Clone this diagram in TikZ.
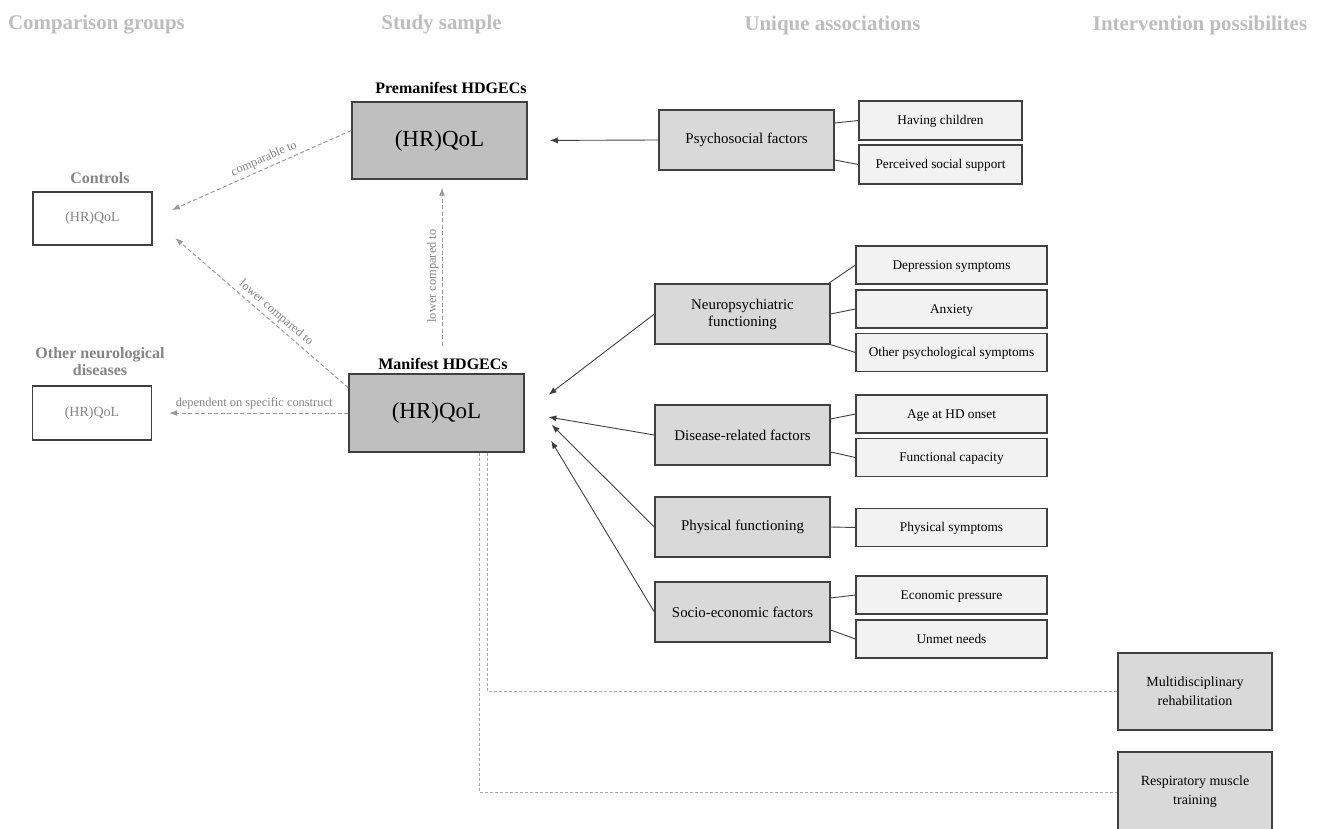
\documentclass[tikz,border=0pt]{standalone}
\usepackage{fontspec}
\setmainfont{Liberation Serif}
\usetikzlibrary{arrows.meta,calc}
\definecolor{edgegray}{HTML}{404040}
\definecolor{dashgray}{HTML}{9A9A9A}
\definecolor{labgray}{HTML}{858585}
\definecolor{titlegray}{HTML}{BDBDBD}
\definecolor{mainfill}{HTML}{BFBFBF}
\definecolor{factfill}{HTML}{D9D9D9}
\definecolor{itemfill}{HTML}{F2F2F2}
\tikzset{
  fs/.style 2 args={font=\fontsize{#1}{#2}\selectfont},
  title/.style={text=titlegray, font=\fontsize{20.9}{25}\selectfont\bfseries},
  grouplab/.style={font=\fontsize{16}{19}\selectfont\bfseries, align=center},
  mainbox/.style={draw=edgegray, line width=1.5pt, fill=mainfill, minimum width=175pt, minimum height=77pt, inner sep=0pt, fs={23}{27}},
  cmpbox/.style={draw=edgegray, line width=1.3pt, fill=white, text=labgray, minimum width=119pt, minimum height=53pt, inner sep=0pt, fs={14}{17}},
  factbox/.style={draw=edgegray, line width=1.3pt, fill=factfill, minimum width=175pt, minimum height=60pt, inner sep=0pt, align=center, fs={14.9}{18}},
  itembox/.style={draw=edgegray, line width=1.2pt, fill=itemfill, minimum width=191pt, minimum height=38pt, inner sep=0pt, text depth=0.5pt, fs={13.3}{16}},
  intbox/.style={draw=edgegray, line width=1.3pt, fill=factfill, minimum width=154pt, minimum height=77pt, inner sep=0pt, align=center, fs={14}{19}},
  arr/.style={draw=edgegray, line width=0.9pt, -{Latex[length=8pt,width=6pt]}},
  link/.style={draw=edgegray, line width=0.9pt},
  dasharr/.style={draw=dashgray, line width=1pt, dash pattern=on 4pt off 2.5pt, -{Latex[length=8pt,width=6pt]}},
  dashlink/.style={draw=dashgray!85, line width=0.9pt, dash pattern=on 3pt off 2pt},
  elab/.style={text=labgray, fs={12.4}{15}, sloped, above, inner sep=3pt},
}
\begin{document}
\begin{tikzpicture}[x=1pt, y=-1pt]
\useasboundingbox (0,0) rectangle (1320,829);
% column titles
\node[title] (t0) at (96.5,25){Comparison groups};
\node[title] (t1) at (441.5,25){Study sample};
\node[title] (t2) at (832.5,25){Unique associations};
\node[title] (t3) at (1200,25){Intervention possibilites};

% study sample
\node[grouplab] (prelab) at (451,88){Premanifest HDGECs};
\node[mainbox] (pre) at (439.5,140.5){(HR)QoL};
\node[grouplab] (manlab) at (443,364){Manifest HDGECs};
\node[mainbox, minimum height=78pt] (man) at (436.5,413){(HR)QoL};

% comparison groups
\node[grouplab, text=labgray] (ctrllab) at (100,178){Controls};
\node[cmpbox] (ctrl) at (92.5,218.5){(HR)QoL};
\node[grouplab, text=labgray, align=center] (othlab) at (100,362){Other neurological\\[-2pt]diseases};
\node[cmpbox, minimum height=54pt] (oth) at (92,413){(HR)QoL};

\draw[dasharr, shorten >=21pt] ($(pre.west)+(0,-10)$) -- node[elab, pos=0.42]{comparable to} (ctrl.east);
\draw[dasharr, shorten >=30pt] (man.164) -- node[elab, pos=0.4]{lower compared to} (ctrl.east);
\draw[dasharr, shorten <=9pt, shorten >=8pt] ($(manlab.north)+(-1,0)$) -- node[elab, pos=0.45]{lower compared to} ($(pre.south)+(2.5,0)$);
\draw[dasharr, shorten >=17pt] (man.west) -- node[elab, pos=0.48]{dependent on specific construct} (oth.east);

% unique associations
\node[factbox] (psy) at (746.5,140){Psychosocial factors};
\node[itembox, minimum width=163pt, minimum height=39pt] (hav) at (940.5,120.5){Having children};
\node[itembox, minimum width=163pt, minimum height=39pt] (per) at (940.5,164.5){Perceived social support};
\draw[arr, shorten >=22pt] (psy.west) -- (pre.east);
\draw[link] ($(psy.east)+(0,-17)$) -- (hav.west);
\draw[link] ($(psy.east)+(0,20)$) -- (per.west);

\node[factbox] (neu) at (742.5,314){Neuropsychiatric\\[-1pt]functioning};
\node[itembox] (dep) at (951.5,265){Depression symptoms};
\node[itembox] (anx) at (951.5,309){Anxiety};
\node[itembox] (othp) at (951.5,352.5){Other psychological symptoms};
\draw[link] ($(neu.north east)+(-2,0)$) -- (dep.west);
\draw[link] (neu.east) -- (anx.west);
\draw[link] (neu.south east) -- (othp.west);

\node[factbox] (dis) at (742.5,435){Disease-related factors};
\node[itembox] (age) at (951.5,414){Age at HD onset};
\node[itembox] (fun) at (951.5,457.5){Functional capacity};
\draw[link] ($(dis.east)+(0,-16)$) -- (age.west);
\draw[link] ($(dis.east)+(0,17)$) -- (fun.west);

\node[factbox] (phy) at (742.5,527){Physical functioning};
\node[itembox] (phs) at (951.5,527.5){Physical symptoms};
\draw[link] (phy.east) -- (phs.west);

\node[factbox] (soc) at (742.5,612){Socio-economic factors};
\node[itembox] (eco) at (951.5,595){Economic pressure};
\node[itembox] (unm) at (951.5,639){Unmet needs};
\draw[link] ($(soc.east)+(0,-14)$) -- (eco.west);
\draw[link] ($(soc.east)+(0,18)$) -- (unm.west);

\draw[arr, shorten >=30pt] (neu.west) -- (man.east);
\draw[arr, shorten >=24pt] (dis.west) -- (man.east);
\draw[arr, shorten >=38pt] (phy.west) -- ($(man.east)+(0,-15)$);
\draw[arr, shorten >=51pt] (soc.west) -- ($(man.east)+(0,-16)$);

% intervention possibilities
\node[intbox] (mul) at (1195,691.5){Multidisciplinary\\rehabilitation};
\node[intbox, minimum height=80pt] (res) at (1195,792){Respiratory muscle\\training};
\draw[dashlink] ($(man.south)+(51,0)$) |- (mul.west);
\draw[dashlink] ($(man.south)+(43,0)$) |- (res.west);

\end{tikzpicture}
\end{document}
